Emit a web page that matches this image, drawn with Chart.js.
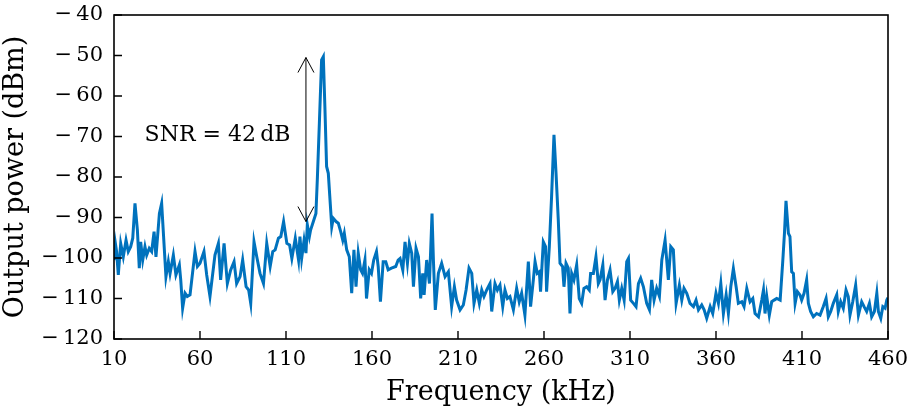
<!DOCTYPE html>
<html>
<head>
<meta charset="utf-8">
<script src="https://cdn.jsdelivr.net/npm/chart.js@4.4.1/dist/chart.umd.min.js"></script>
<style>
  html, body { margin: 0; padding: 0; background: #fff; }
  #wrap { width: 913px; height: 409px; }
</style>
</head>
<body>
<div id="wrap"><canvas id="spectrum" width="913" height="409"></canvas></div>
<script>
// spectrum (kHz, dBm)
const freq = [
  10.0, 10.8, 11.5, 12.5, 13.9, 15.4, 17.0, 18.3, 19.7, 20.9, 22.2, 23.6, 24.7, 25.5, 26.7, 28.0,
  29.0, 30.5, 31.9, 33.3, 34.4, 36.4, 37.7, 40.2, 41.6, 42.6, 44.5, 46.0, 48.0, 48.8, 49.9, 51.3,
  52.6, 54.2, 57.1, 58.5, 60.0, 62.3, 63.9, 65.8, 68.7, 70.7, 72.0, 74.0, 75.9, 77.8, 79.8, 81.3,
  83.3, 84.8, 86.8, 88.3, 89.5, 91.4, 93.0, 94.9, 96.9, 98.8, 100.8, 102.3, 103.7, 105.6, 107.0, 108.6,
  110.5, 112.1, 113.4, 115.4, 117.3,
  118.1, 119.1, 120.5, 121.6, 122.4, 123.6, 124.3, 125.9, 127.4, 128.2, 129.4, 130.7, 131.7, 132.6,
  133.6, 134.6, 135.6, 136.6, 137.5, 139.1, 140.4, 141.8, 143.0, 143.9, 145.3, 146.8, 148.2, 149.5,
  150.7, 152.0, 153.4, 154.5, 155.9, 156.8, 158.4, 159.7, 161.0, 162.6, 163.6, 164.9, 166.5, 168.0,
  169.4, 171.3, 173.8, 175.2,
  176.3, 177.9, 179.2, 180.6, 181.7, 183.1, 184.1, 185.6, 187.0, 188.3, 189.5, 190.3, 191.8, 193.4,
  194.9, 195.7, 196.8, 198.6, 200.5, 202.5, 204.4, 206.3, 207.9, 209.2, 211.2, 213.1, 214.7, 216.4,
  218.0, 219.3, 220.9, 222.4, 223.8, 225.1, 226.7, 228.6, 229.6, 231.5, 232.9,
  234.4, 236.0, 237.3, 238.7, 240.2, 242.2, 244.1, 245.6, 247.0, 248.9, 250.9, 252.2, 253.8, 254.8,
  256.1, 257.3, 258.0, 259.6, 260.9, 261.5, 263.1, 264.4, 265.8, 267.0, 268.3, 269.3, 270.8, 271.6,
  272.8, 274.1, 275.1, 276.1, 277.4, 279.0, 280.5, 281.9, 283.2, 284.8, 286.3, 287.1, 288.7, 290.2,
  291.6,
  292.6, 294.2, 295.5, 296.9, 298.4, 300.0, 301.3, 302.7, 303.8, 305.2, 306.6, 308.1, 309.1, 310.4,
  312.0, 313.5, 314.9, 316.2, 317.8, 319.7, 321.3, 322.6, 324.0, 325.5, 327.1, 328.5, 330.4, 332.3,
  333.7, 335.2, 336.8, 338.7, 340.1, 341.4, 343.0, 344.9, 346.9, 348.4, 349.8, 351.7, 353.1, 354.6,
  356.6, 358.1, 360.0, 361.4, 362.8, 364.3, 365.9, 367.2, 368.6, 370.1, 371.7, 373.0, 375.0, 376.3,
  377.9, 379.8, 381.4, 382.7, 384.7, 386.6, 387.6, 388.5, 389.5, 391.0, 392.4, 393.8, 395.3, 397.3,
  398.8, 399.8, 400.7, 402.1, 403.0, 404.0,
  405.0, 406.0, 407.3, 408.8, 409.8, 411.2, 412.7, 413.7, 415.0, 416.6, 418.5, 420.5, 422.4, 424.0,
  425.3, 426.7, 428.2, 430.2, 431.1, 432.5, 434.0, 435.6, 436.9, 437.9, 439.5, 441.2, 442.8, 444.7,
  446.1, 447.6, 449.2, 450.5, 452.1, 453.5, 454.4, 455.8, 457.0, 458.3, 459.3, 460.0
];
const power = [
  -100.5, -96.4, -98.4, -104.2, -96.4, -99.7, -95.6, -98.4, -97.2, -95.1, -86.5, -93.1, -102.5, -96.0, -100.5, -97.2,
  -99.3, -97.6, -98.4, -93.5, -99.7, -89.0, -86.5, -104.6, -100.9, -103.8, -99.3, -104.2, -101.7, -105.4, -112.4, -108.7,
  -109.5, -109.1, -98.4, -102.1, -101.3, -98.4, -104.2, -109.5, -99.3, -96.4, -105.4, -96.4, -106.3, -103.0, -100.9, -106.3,
  -104.6, -100.5, -107.1, -107.9, -111.2, -96.0, -99.7, -103.8, -106.3, -96.4, -102.1, -98.4, -98.0, -95.1, -94.7, -91.0,
  -96.4, -96.8, -100.1, -95.1, -100.5,
  -94.7, -100.1, -95.6, -98.8, -91.8, -94.7, -93.1, -91.0, -89.0, -80.7, -66.7, -51.1, -50.3, -62.6,
  -77.4, -79.1, -85.7, -92.3, -90.2, -91.0, -91.4, -93.5, -95.6, -93.9, -98.0, -99.7, -108.7, -98.0,
  -107.1, -98.8, -102.9, -103.8, -100.5, -110.0, -102.9, -103.8, -100.5, -98.4, -102.1, -110.8, -100.9, -100.9,
  -102.9, -102.5, -102.1, -100.5,
  -100.1, -103.0, -96.0, -101.3, -96.4, -98.8, -107.1, -97.6, -99.7, -110.0, -103.8, -109.1, -100.5, -106.3,
  -89.0, -100.5, -112.8, -103.8, -101.3, -104.6, -103.4, -112.0, -107.1, -110.4, -112.8, -111.6, -107.9, -102.5,
  -103.8, -111.2, -107.9, -111.2, -107.9, -109.5, -107.9, -106.3, -113.2, -106.3, -107.9,
  -106.7, -112.0, -107.9, -110.0, -109.5, -112.8, -107.5, -110.8, -108.7, -114.1, -100.9, -112.0, -105.4, -100.9,
  -103.8, -103.4, -108.3, -96.0, -97.2, -108.3, -97.2, -84.9, -69.6, -79.1, -90.6, -101.3, -102.1, -107.1,
  -101.3, -102.5, -113.7, -103.8, -105.4, -101.7, -110.0, -111.2, -107.5, -107.1, -107.9, -103.8, -103.8, -99.7,
  -106.3,
  -105.4, -101.7, -110.4, -105.4, -103.0, -108.3, -107.5, -105.8, -110.4, -107.5, -110.4, -100.9, -100.1, -110.4,
  -111.2, -112.0, -106.3, -105.0, -107.1, -111.2, -112.8, -105.4, -110.4, -107.5, -109.5, -100.5, -95.6, -105.4,
  -97.2, -98.0, -111.2, -106.7, -110.4, -107.5, -108.7, -111.2, -112.0, -110.4, -112.8, -111.6, -112.8, -114.9,
  -112.0, -113.7, -108.7, -111.2, -106.3, -113.7, -109.1, -113.7, -107.1, -102.6, -107.1, -111.2, -110.8, -112.0,
  -107.5, -110.8, -110.0, -113.7, -114.5, -110.4, -107.9, -113.7, -109.5, -114.1, -110.8, -110.4, -110.0, -110.4,
  -100.9, -93.9, -85.9, -93.9, -94.7, -103.4,
  -103.8, -111.2, -108.3, -109.1, -110.4, -108.7, -105.4, -111.2, -113.2, -114.5, -113.7, -114.1, -112.0, -110.0,
  -114.5, -113.2, -111.2, -109.1, -113.2, -110.8, -112.4, -107.9, -109.5, -114.1, -110.8, -106.7, -114.1, -110.8,
  -112.0, -113.2, -111.2, -114.5, -113.2, -108.7, -113.2, -114.9, -112.0, -112.4, -110.4, -109.8
];

const xTicks = [10, 60, 110, 160, 210, 260, 310, 360, 410, 460];
const yTicks = [-120, -110, -100, -90, -80, -70, -60, -50, -40];

// SNR annotation
const snrFreq = 121.6;
const snrTop = -50.5;
const snrBottom = -91.0;
const snrLabel = 'SNR = 42\u2009dB';
const snrLabelFreq = 70.2;
const snrLabelPower = -69.6;

const serif = "'DejaVu Serif', 'Liberation Serif', serif";
const lineBlue = '#0072BD';

const fmtTick = (v) => (v < 0 ? '\u2212\u2009' + Math.abs(v) : String(v));

// box, inward ticks, arrow + text
const framePlugin = {
    id: 'frame',
    afterDraw(chart) {
        const { ctx, chartArea: a, scales: { x, y } } = chart;
        ctx.save();
        ctx.strokeStyle = '#000';
        ctx.lineWidth = 1.6;
        ctx.strokeRect(a.left, a.top, a.right - a.left, a.bottom - a.top);

        ctx.lineWidth = 1.4;
        ctx.beginPath();
        xTicks.forEach(v => {
            const px = x.getPixelForValue(v);
            ctx.moveTo(px, a.bottom);
            ctx.lineTo(px, a.bottom - 8);
        });
        yTicks.forEach(v => {
            const py = y.getPixelForValue(v);
            ctx.moveTo(a.left, py);
            ctx.lineTo(a.left + 8, py);
        });
        ctx.stroke();

        // double-headed arrow
        const ax = x.getPixelForValue(snrFreq);
        const y1 = y.getPixelForValue(snrTop);
        const y2 = y.getPixelForValue(snrBottom);
        ctx.lineWidth = 1;
        ctx.beginPath();
        ctx.moveTo(ax, y1);
        ctx.lineTo(ax, y2);
        ctx.moveTo(ax - 8, y1 + 15);
        ctx.lineTo(ax, y1);
        ctx.lineTo(ax + 8, y1 + 15);
        ctx.moveTo(ax - 8, y2 - 15);
        ctx.lineTo(ax, y2);
        ctx.lineTo(ax + 8, y2 - 15);
        ctx.stroke();

        ctx.fillStyle = '#000';
        ctx.font = '22px ' + serif;
        ctx.textAlign = 'center';
        ctx.textBaseline = 'middle';
        ctx.fillText(snrLabel, x.getPixelForValue(snrLabelFreq), y.getPixelForValue(snrLabelPower));
        ctx.restore();
    }
};

new Chart(document.getElementById('spectrum'), {
    type: 'line',
    data: {
        datasets: [{
            data: freq.map((f, i) => ({ x: f, y: power[i] })),
            borderColor: lineBlue,
            borderWidth: 3,
            pointRadius: 0,
            tension: 0,
            fill: false
        }]
    },
    options: {
        responsive: false,
        animation: false,
        devicePixelRatio: 1,
        layout: { padding: { left: 0, right: 25, top: 15, bottom: 0 } },
        plugins: { legend: { display: false }, tooltip: { enabled: false } },
        scales: {
            x: {
                type: 'linear',
                min: 10,
                max: 460,
                afterFit: (s) => { s.height = 70; s.paddingLeft = 0; s.paddingRight = 0; },
                afterBuildTicks: (s) => { s.ticks = xTicks.map(v => ({ value: v })); },
                grid: { display: false, drawTicks: false },
                border: { display: false },
                ticks: {
                    color: '#000',
                    padding: 8,
                    maxRotation: 0,
                    autoSkip: false,
                    font: { family: serif, size: 21 },
                    callback: fmtTick
                },
                title: {
                    display: true,
                    text: 'Frequency (kHz)',
                    color: '#000',
                    padding: { top: 0, bottom: 0 },
                    font: { family: serif, size: 27 }
                }
            },
            y: {
                min: -120,
                max: -40,
                afterFit: (s) => { s.width = 114; s.paddingTop = 0; s.paddingBottom = 0; },
                afterBuildTicks: (s) => { s.ticks = yTicks.map(v => ({ value: v })); },
                grid: { display: false, drawTicks: false },
                border: { display: false },
                ticks: {
                    color: '#000',
                    padding: 11,
                    autoSkip: false,
                    font: { family: serif, size: 21 },
                    callback: fmtTick
                },
                title: {
                    display: true,
                    text: 'Output power (dBm)',
                    color: '#000',
                    padding: { top: 0, bottom: 0 },
                    font: { family: serif, size: 27 }
                }
            }
        }
    },
    plugins: [framePlugin]
});
</script>
</body>
</html>
